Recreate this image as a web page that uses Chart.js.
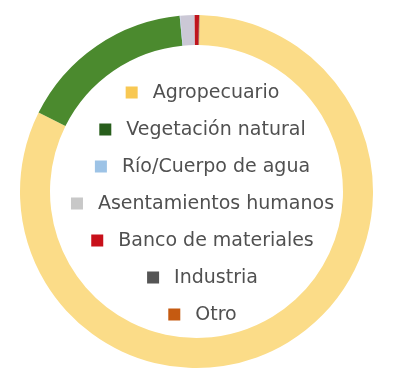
<!DOCTYPE html>
<html>
<head>
<meta charset="utf-8">
<script src="https://cdn.jsdelivr.net/npm/chart.js@4/dist/chart.umd.min.js"></script>
<style>
    html, body { margin: 0; padding: 0; background: #fff; }
    #wrap { width: 402px; height: 377px; position: relative; }
</style>
</head>
<body>
<div id="wrap"><canvas id="myChart"></canvas></div>
<script>
// uso de suelo (% del area)
const categories = ['Agropecuario', 'Vegetación natural', 'Río/Cuerpo de agua', 'Asentamientos humanos', 'Banco de materiales', 'Industria', 'Otro'];
const shares = [82.1, 16.1, 0.05, 1.3, 0.4, 0.03, 0.02];

const ringColors = ['#fbdc88', '#4b8a2e', '#9dc3e6', '#cbc8d6', '#c0141c', '#595959', '#c55a11'];
const boxColors = ['#f8c853', '#285e1c', '#9dc3e6', '#c8c8c8', '#c8101a', '#555555', '#c55a11'];

// legend drawn inside the hole, one item per line, centered
const centerLegend = {
    id: 'centerLegend',
    afterDraw(chart) {
        const ctx = chart.ctx;
        const arc = chart.getDatasetMeta(0).data[0];
        const cx = arc.x + 6;
        const top = arc.y - 99;
        const step = 37;
        const box = 12;
        const gap = 15;
        ctx.save();
        ctx.font = '19px "DejaVu Sans"';
        ctx.textBaseline = 'middle';
        categories.forEach((label, i) => {
            const y = top + i * step;
            const w = ctx.measureText(label).width;
            const x0 = cx - (box + gap + w) / 2;
            ctx.fillStyle = boxColors[i];
            ctx.fillRect(x0, y - box / 2, box, box);
            ctx.fillStyle = '#505050';
            ctx.fillText(label, x0 + box + gap, y + 1);
        });
        ctx.restore();
    }
};

const ctx = document.getElementById('myChart');
new Chart(ctx, {
    type: 'doughnut',
    data: {
        labels: categories,
        datasets: [{
            data: shares,
            backgroundColor: ringColors,
            borderWidth: 0
        }]
    },
    options: {
        responsive: true,
        maintainAspectRatio: false,
        animation: false,
        rotation: 1,
        cutout: '83%',
        layout: { padding: { left: 20, right: 29, top: 15, bottom: 9 } },
        plugins: {
            legend: { display: false },
            tooltip: { enabled: false }
        }
    },
    plugins: [centerLegend]
});
</script>
</body>
</html>
